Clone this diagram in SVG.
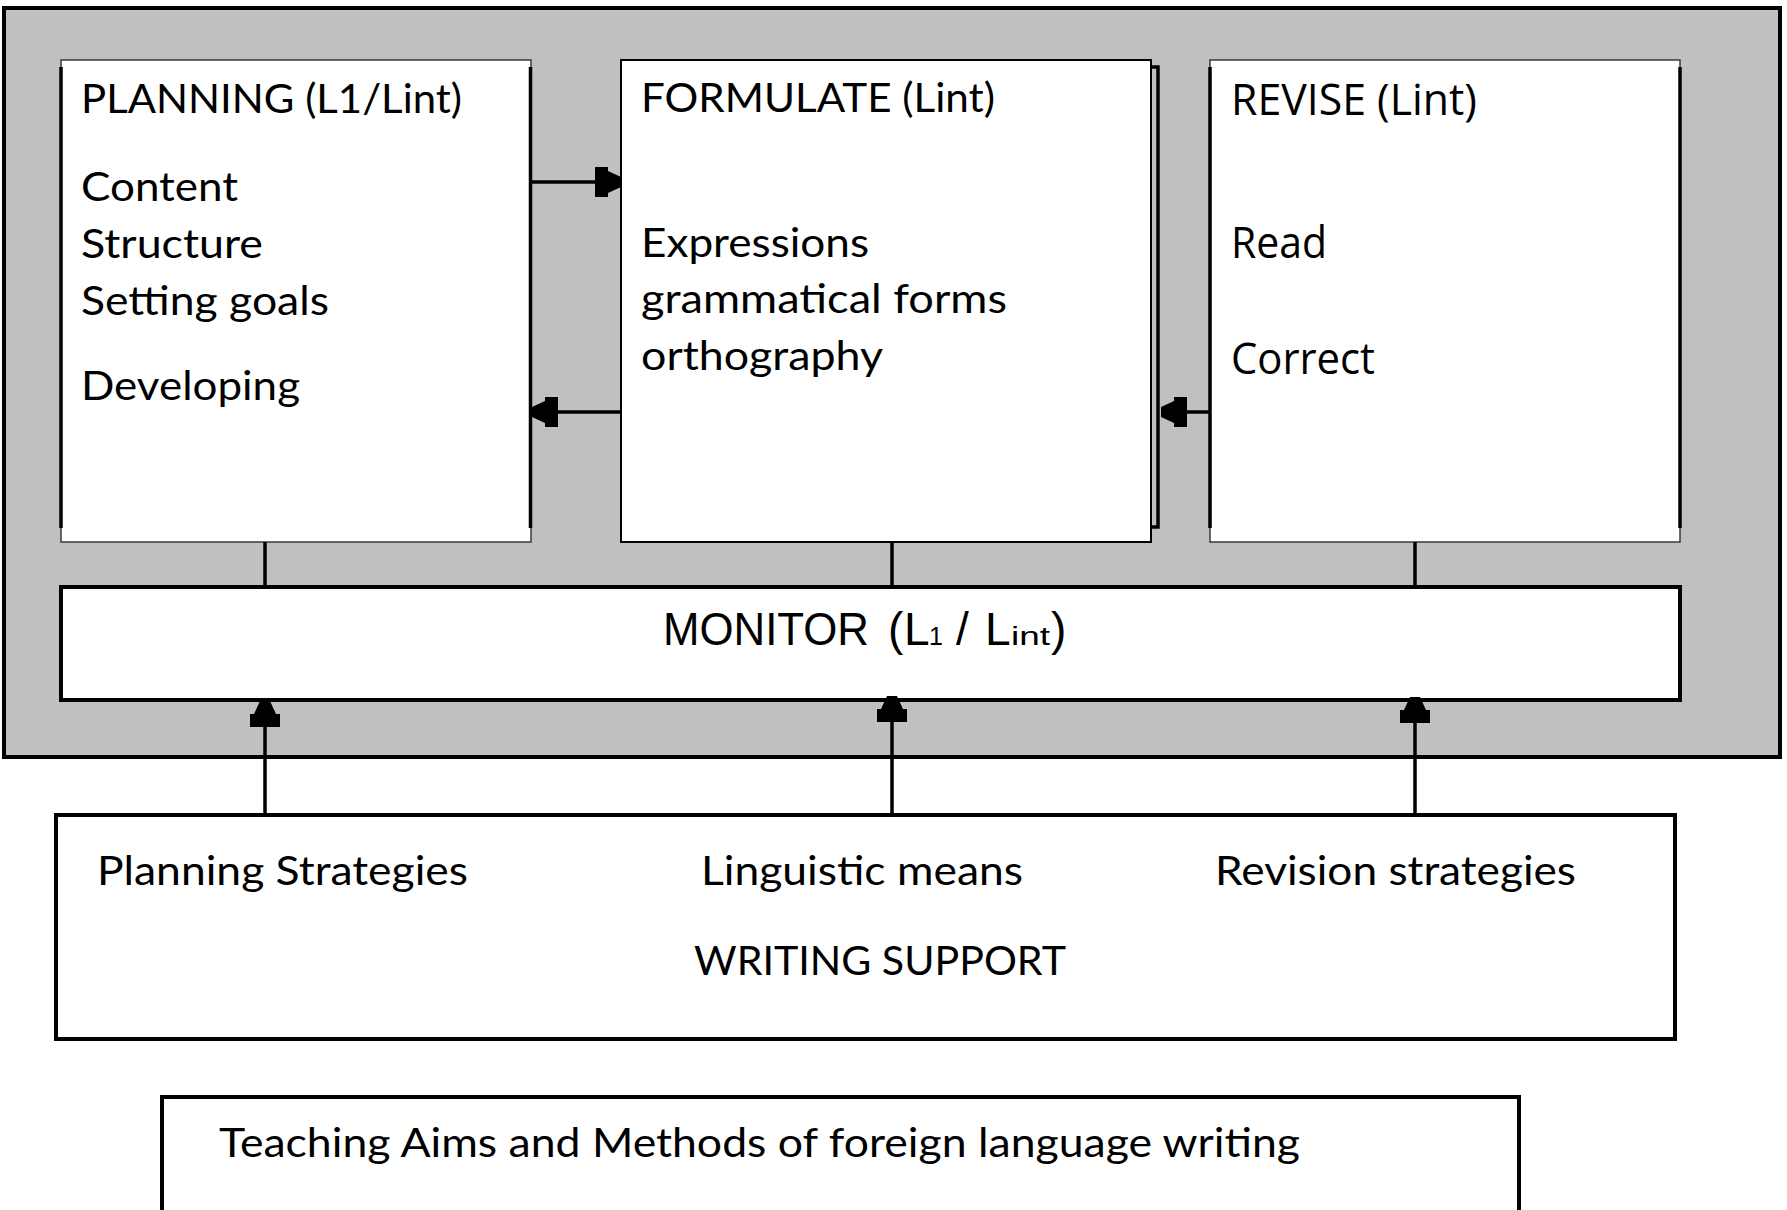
<svg xmlns="http://www.w3.org/2000/svg" xmlns:xlink="http://www.w3.org/1999/xlink" width="1787" height="1210" viewBox="0 0 1787 1210">
  <style>
    .frame { fill: #c0c0c0; stroke: #000; stroke-width: 4; }
    .box { fill: #fff; stroke: #3a3a3a; stroke-width: 1.5; }
    .side { stroke: #000; stroke-width: 3.5; fill: none; }
    .bar { fill: #fff; stroke: #000; stroke-width: 4; }
    .link { stroke: #000; stroke-width: 3.5; fill: none; }
    .head { fill: #000; }
    .t { font-family: Lato, "Open Sans", "Liberation Sans", sans-serif; font-size: 40px; fill: #000; }
    .tr { font-family: "Open Sans", "DejaVu Sans", sans-serif; font-size: 43px; fill: #000; }
    .mon { font-family: "Liberation Sans", Arial, sans-serif; font-size: 46px; fill: #000; }
    .sub { font-size: 25px; }
  </style>
  <defs>
    <!-- block arrowhead pointing right, tip at origin -->
    <path id="ah" d="M0,-5 L-13,-11 L-13,-15 L-26,-15 L-26,15 L-13,15 L-13,11 L0,5 Z"/>
  </defs>

  <!-- grey process frame -->
  <rect id="frame" class="frame" x="4" y="8" width="1776" height="749"/>

  <g id="planning">
    <rect class="box" x="61" y="60" width="470" height="482"/>
    <path class="side" d="M61,67 V528 M530.5,67 V528"/>
    <text class="t" x="81" y="113" textLength="381" lengthAdjust="spacingAndGlyphs">PLANNING (L1/Lint)</text>
    <text class="t" x="81" y="201" textLength="157" lengthAdjust="spacingAndGlyphs">Content</text>
    <text class="t" x="81" y="258" textLength="182" lengthAdjust="spacingAndGlyphs">Structure</text>
    <text class="t" x="81" y="315" textLength="248" lengthAdjust="spacingAndGlyphs">Setting goals</text>
    <text class="t" x="81" y="400" textLength="219" lengthAdjust="spacingAndGlyphs">Developing</text>
  </g>

  <g id="formulate">
    <rect class="box" x="621" y="60" width="530" height="482" style="stroke:#000;stroke-width:2"/>
    <path class="side" d="M1151,67 H1158 V527 H1151"/>
    <text class="t" x="641" y="112" textLength="354" lengthAdjust="spacingAndGlyphs">FORMULATE (Lint)</text>
    <text class="t" x="641" y="257" textLength="228" lengthAdjust="spacingAndGlyphs">Expressions</text>
    <text class="t" x="641" y="313" textLength="366" lengthAdjust="spacingAndGlyphs">grammatical forms</text>
    <text class="t" x="641" y="370" textLength="242" lengthAdjust="spacingAndGlyphs">orthography</text>
  </g>

  <g id="revise">
    <rect class="box" x="1210" y="60" width="470" height="482"/>
    <path class="side" d="M1210,67 V528 M1680,67 V528"/>
    <text class="tr" x="1231" y="115" textLength="246" lengthAdjust="spacingAndGlyphs">REVISE (Lint)</text>
    <text class="tr" x="1231" y="258" textLength="96" lengthAdjust="spacingAndGlyphs">Read</text>
    <text class="tr" x="1231" y="374" textLength="144" lengthAdjust="spacingAndGlyphs">Correct</text>
  </g>

  <g id="monitor">
    <rect class="bar" x="61" y="587" width="1619" height="113"/>
    <text class="mon" y="645"><tspan x="663" textLength="206" lengthAdjust="spacingAndGlyphs">MONITOR</tspan><tspan x="888">(</tspan><tspan x="904">L</tspan><tspan class="sub" x="929">1</tspan><tspan x="956">/</tspan><tspan x="985">L</tspan><tspan class="sub" x="1011" textLength="39" lengthAdjust="spacingAndGlyphs">int</tspan><tspan x="1051">)</tspan></text>
  </g>

  <g id="writing-support">
    <rect class="bar" x="56" y="815" width="1619" height="224"/>
    <text class="t" x="97" y="885" textLength="371" lengthAdjust="spacingAndGlyphs">Planning Strategies</text>
    <text class="t" x="701" y="885" textLength="322" lengthAdjust="spacingAndGlyphs">Linguistic means</text>
    <text class="t" x="1215" y="885" textLength="361" lengthAdjust="spacingAndGlyphs">Revision strategies</text>
    <text class="t" x="694" y="975" textLength="372" lengthAdjust="spacingAndGlyphs">WRITING SUPPORT</text>
  </g>

  <g id="teaching">
    <rect class="bar" x="162" y="1097" width="1357" height="140"/>
    <text class="t" x="219" y="1157" textLength="1081" lengthAdjust="spacingAndGlyphs">Teaching Aims and Methods of foreign language writing</text>
  </g>

  <g id="connectors">
    <!-- planning <-> formulate -->
    <path class="link" d="M531,182 H605"/>
    <use href="#ah" class="head" transform="translate(621,182)"/>
    <path class="link" d="M621,412 H545"/>
    <use href="#ah" class="head" transform="translate(532,412) rotate(180)"/>
    <!-- revise -> formulate -->
    <path class="link" d="M1210,412 H1175"/>
    <use href="#ah" class="head" transform="translate(1161,412) rotate(180)"/>
    <!-- boxes to monitor -->
    <path class="link" d="M265,542 V587 M892,542 V587 M1415,542 V587"/>
    <!-- writing support up to monitor -->
    <path class="link" d="M265,815 V712 M892,815 V712 M1415,815 V712"/>
    <use href="#ah" class="head" transform="translate(265,701) rotate(-90)"/>
    <use href="#ah" class="head" transform="translate(892,696) rotate(-90)"/>
    <use href="#ah" class="head" transform="translate(1415,697) rotate(-90)"/>
  </g>
</svg>
